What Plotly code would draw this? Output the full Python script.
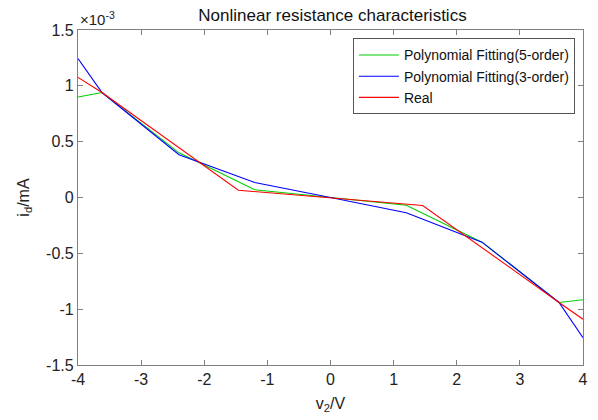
import plotly.graph_objects as go

# values in units of 1e-3 mA
x_fit = [-4, -3.62, -2.4, -1.2, 0, 1.2, 2.4, 3.62, 4]
y_fit5 = [0.90, 0.94, 0.40, 0.07, 0, -0.07, -0.40, -0.94, -0.915]
y_fit3 = [1.245, 0.94, 0.383, 0.134, 0, -0.136, -0.40, -0.94, -1.255]
x_real = [-4, -3.62, -1.46, 0, 1.46, 3.62, 4]
y_real = [1.075, 0.94, 0.065, 0, -0.071, -0.94, -1.09]

x_ticks = [-4, -3, -2, -1, 0, 1, 2, 3, 4]
x_ticktext = ["-4", "-3", "-2", "-1", "0", "1", "2", "3", "4"]
y_ticks = [-1.5, -1, -0.5, 0, 0.5, 1, 1.5]
y_ticktext = ["-1.5", "-1", "-0.5", "0", "0.5", "1", "1.5"]

FONT = "Liberation Sans, Arial, sans-serif"
AX = "#808080"

fig = go.Figure()
fig.add_trace(go.Scatter(x=x_fit, y=y_fit5, mode="lines", name="Polynomial Fitting(5-order)",
                         line=dict(color="#00d000", width=1.1)))
fig.add_trace(go.Scatter(x=x_fit, y=y_fit3, mode="lines", name="Polynomial Fitting(3-order)",
                         line=dict(color="#0000ff", width=1.1)))
fig.add_trace(go.Scatter(x=x_real, y=y_real, mode="lines", name="Real",
                         line=dict(color="#ff0000", width=1.1)))

axis_common = dict(showgrid=False, zeroline=False, showline=True, linecolor=AX, linewidth=1.3,
                   mirror="ticks", ticks="inside", ticklen=5, tickcolor=AX, tickwidth=1,
                   tickfont=dict(family=FONT, size=16, color="#222"))

fig.update_xaxes(range=[-4, 4], tickvals=x_ticks, ticktext=x_ticktext, **axis_common,
                 title=dict(text="v<sub>2</sub>/V", font=dict(family=FONT, size=16, color="#222"), standoff=10))
fig.update_yaxes(range=[-1.5, 1.5], tickvals=y_ticks, ticktext=y_ticktext, **axis_common,
                 title=dict(text="i<sub>d</sub>/mA", font=dict(family=FONT, size=16, color="#222"), standoff=12))

fig.update_layout(
    width=598, height=420,
    margin=dict(l=78, r=10, t=30, b=52),
    paper_bgcolor="white", plot_bgcolor="white",
    title=dict(text="Nonlinear resistance characteristics", x=0.556, xanchor="center",
               y=0.963, yanchor="middle", font=dict(family=FONT, size=17, color="#111")),
    font=dict(family=FONT, size=14, color="#111"),
    legend=dict(x=0.984, y=0.975, xanchor="right", yanchor="top",
                bgcolor="white", bordercolor="#555", borderwidth=1,
                font=dict(family=FONT, size=14, color="#111"),
                tracegroupgap=0, itemwidth=40),
    showlegend=True,
    annotations=[dict(text="×10<sup>-3</sup>", xref="paper", yref="paper", x=0, y=1.0,
                      xanchor="left", yanchor="bottom", showarrow=False,
                      font=dict(family=FONT, size=15, color="#222"))],
)

fig.write_html("out.html")
